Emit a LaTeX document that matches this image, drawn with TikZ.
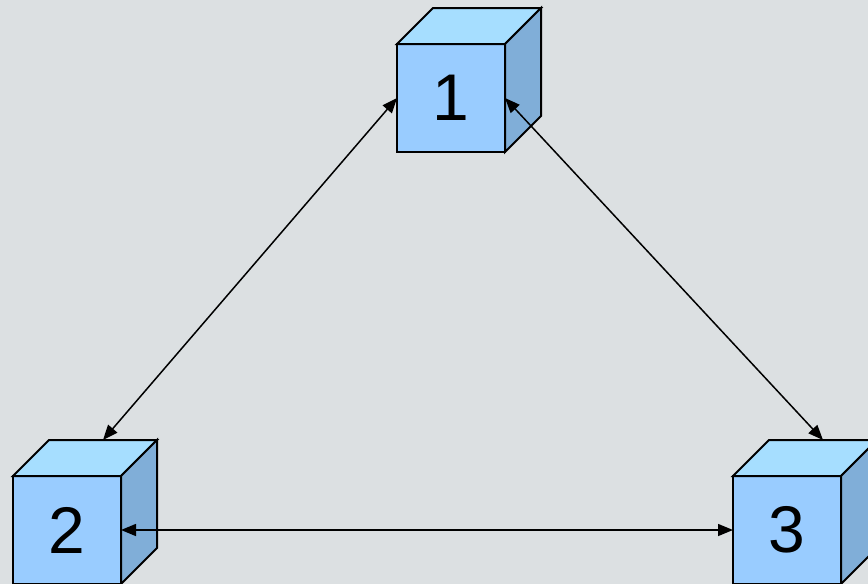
\documentclass[tikz,border=0pt]{standalone}
\usepackage{fontspec}
\setmainfont{Liberation Sans}
\usetikzlibrary{arrows.meta,calc}
\definecolor{bg}{RGB}{220,224,226}
\definecolor{front}{RGB}{153,204,255}
\definecolor{topf}{RGB}{166,222,255}
\definecolor{side}{RGB}{128,174,216}
\tikzset{
  cube/.style={draw=black, line width=2pt, fill=front, minimum size=108pt, inner sep=0pt, outer sep=0pt,
    font=\fontsize{66}{66}\selectfont},
  face/.style={draw=black, line width=2pt, line join=miter},
  conn/.style={line width=1.5pt, {Triangle[length=15pt,width=12pt]}-{Triangle[length=15pt,width=12pt]}}
}
\newcommand{\cubefaces}[1]{%
  \draw[face, fill=topf] (#1.north west) -- ++(36,-36) -- ++(108,0) -- ($(#1.north east)$) -- cycle;
  \draw[face, fill=side] (#1.north east) -- ++(36,-36) -- ++(0,108) -- (#1.south east) -- cycle;
}
\begin{document}
\begin{tikzpicture}[x=1pt,y=-1pt]
\fill[bg] (0,0) rectangle (868,584);
\useasboundingbox (0,0) rectangle (868,584);
\begin{scope}
\clip (0,0) rectangle (868,584);
\node[cube] (c1) at (451,98) {1};
\node[cube] (c2) at (67,530) {2};
\node[cube] (c3) at (787,530) {3};
\cubefaces{c1}
\cubefaces{c2}
\cubefaces{c3}
\draw[conn] (c1.west) -- ($(c2.north)+(36,-36)$);
\draw[conn] (c1.east) -- ($(c3.north)+(36,-36)$);
\draw[conn] (c2.east) -- (c3.west);
\end{scope}
\end{tikzpicture}
\end{document}
